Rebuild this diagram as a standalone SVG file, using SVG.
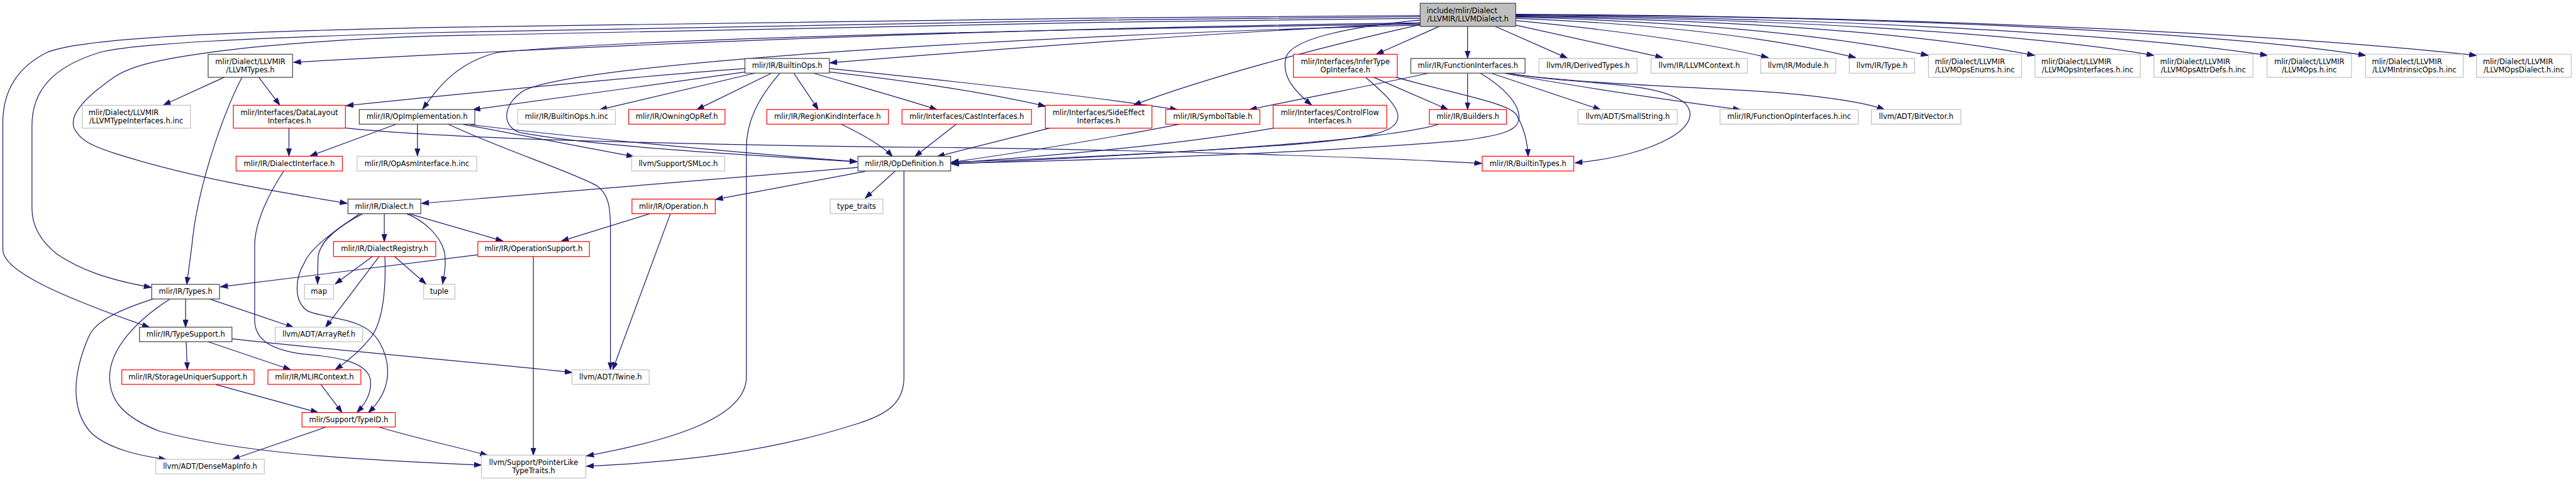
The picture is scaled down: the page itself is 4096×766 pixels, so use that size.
<svg xmlns="http://www.w3.org/2000/svg" width="4096" height="766" viewBox="0 0 4096 766">
<style>
.n rect{fill:#fff;stroke-width:1.33}
.doc rect{stroke:#404040}
.red rect{stroke:#ff0000}
.gray rect{stroke:#bfbfbf}
.top rect{fill:#bfbfbf;stroke:#404040}
text{font-family:"DejaVu Sans","Liberation Sans",sans-serif;font-size:12.75px;fill:#000;text-anchor:middle}
text.l{text-anchor:start}
#edges path{fill:none;stroke:#191970;stroke-width:1.33;marker-end:url(#a)}
</style>
<defs>
<marker id="a" markerUnits="userSpaceOnUse" markerWidth="14" markerHeight="10" refX="13" refY="5" orient="auto"><path d="M0,0.5 L13,5 L0,9.5z" fill="#191970" stroke="#191970" stroke-width="1"/></marker>
</defs>
<rect x="0" y="0" width="4096" height="766" fill="#fff"/>
<g transform="scale(0.908)">
<g id="edges">
<path d="M2487,40 C1700,50 1000,82 514,109"/>
<path d="M2487,27 C1900,31 1200,38 760,48 C400,56 140,66 82,92 C30,118 5,160 5,215 L5,437 C5,475 110,520 262,573"/>
<path d="M2487,29 C1900,34 1200,45 760,57 C450,66 230,76 174,92 C90,118 56,160 56,220 L56,365 C56,400 75,425 100,445 C140,472 190,490 265,503"/>
<path d="M2487,32 C1900,38 1200,50 760,63 C550,70 420,84 359,93 C280,104 230,115 200,135 C150,170 120,200 130,225 C140,245 160,255 200,268 C330,310 480,335 608,356"/>
<path d="M2487,42 C1800,52 1100,68 870,92 C800,110 770,150 740,191"/>
<path d="M2487,44 C1800,62 1000,110 915,160 C880,185 878,220 910,232 C1050,258 1350,274 1501,283"/>
<path d="M2487,40 C2100,58 1700,90 1453,110"/>
<path d="M2487,43 C2300,85 2100,140 1985,184"/>
<path d="M2487,35 C2350,48 2262,70 2252,100 C2243,135 2270,162 2297,184"/>
<path d="M2521,46 L2410,95"/>
<path d="M2570,46 L2570,102"/>
<path d="M2618,46 L2745,102"/>
<path d="M2654,44 L2912,101"/>
<path d="M2654,36 C2850,55 3000,78 3097,101"/>
<path d="M2654,32 C2900,42 3100,65 3250,101"/>
<path d="M2654,30 C2950,38 3200,60 3377,97"/>
<path d="M2654,29 C3000,34 3350,55 3563,97"/>
<path d="M2654,28 C3100,32 3550,58 3772,97"/>
<path d="M2654,27 C3150,30 3700,56 3971,97"/>
<path d="M2654,26 C3250,28 3850,52 4143,97"/>
<path d="M2654,25 C3300,28 3950,55 4337,97"/>
<path d="M1305,120 C1100,135 800,165 606,185"/>
<path d="M1305,126 L828,192"/>
<path d="M1322,128 L1050,192"/>
<path d="M1351,128 L1220,192"/>
<path d="M1390,128 L1433,192"/>
<path d="M1366,128 C1325,175 1307,215 1307,260 L1307,660 C1307,730 1180,770 1027,798"/>
<path d="M1452,120 C1700,145 1920,170 2062,192"/>
<path d="M1452,126 C1600,142 1740,165 1831,186"/>
<path d="M1424,128 C1500,150 1580,172 1641,192"/>
<path d="M393,135 L286,184"/>
<path d="M453,135 L490,184"/>
<path d="M424,135 C390,200 345,330 336,430 L327,498"/>
<path d="M506,224 L506,273"/>
<path d="M605,224 C800,245 1300,255 1640,258 C2000,262 2400,275 2595,286"/>
<path d="M695,217 L543,273"/>
<path d="M731,217 L731,273"/>
<path d="M784,217 C880,262 1000,300 1045,325 C1065,340 1069,360 1069,400 L1069,647"/>
<path d="M808,217 L1110,274"/>
<path d="M823,218 C1000,240 1300,268 1501,283"/>
<path d="M497,299 C470,340 446,390 446,430 L446,560 C446,592 470,612 533,620 C585,624 640,632 648,662 C653,688 638,708 625,722"/>
<path d="M673,374 L673,423"/>
<path d="M635,374 C595,395 560,420 557,450 L556,497"/>
<path d="M630,374 C600,395 545,430 533,460 C515,490 515,530 540,545 C580,560 640,555 665,600 C690,645 680,690 645,722"/>
<path d="M712,374 C740,385 770,410 778,440 C782,460 778,480 775,497"/>
<path d="M716,374 L881,422"/>
<path d="M1502,293 L738,356"/>
<path d="M1515,300 L1253,349"/>
<path d="M1568,299 L1515,347"/>
<path d="M1583,299 L1583,660 C1583,705 1555,725 1500,742 C1350,790 1200,808 1027,816"/>
<path d="M1138,374 L983,422"/>
<path d="M1174,374 L1073,647"/>
<path d="M837,446 L386,502"/>
<path d="M934,449 L934,797"/>
<path d="M652,449 L587,497"/>
<path d="M664,449 L570,573"/>
<path d="M674,449 C676,500 672,560 650,590 C630,615 605,635 587,647"/>
<path d="M691,449 L746,497"/>
<path d="M325,523 L325,573"/>
<path d="M366,523 L514,573"/>
<path d="M269,523 C200,545 165,565 155,590 C125,660 125,720 160,758 C190,785 240,797 291,804"/>
<path d="M298,523 C240,560 192,610 192,660 C192,700 215,730 280,755 C420,792 600,804 843,814"/>
<path d="M326,598 L328,647"/>
<path d="M364,598 L509,647"/>
<path d="M406,593 C600,615 850,635 1002,652"/>
<path d="M378,673 L557,722"/>
<path d="M562,673 L599,722"/>
<path d="M572,747 L407,804"/>
<path d="M662,747 C720,765 800,782 854,797"/>
<path d="M2405,135 L2536,192"/>
<path d="M2444,135 C2550,165 2640,180 2655,200 C2670,225 2675,250 2676,274"/>
<path d="M2391,135 C2420,160 2455,190 2447,210 C2440,232 2400,242 2250,254 C2050,268 1800,279 1666,284"/>
<path d="M2502,128 C2400,150 2280,172 2188,192"/>
<path d="M2570,128 L2570,192"/>
<path d="M2611,128 L2803,192"/>
<path d="M2633,128 C2750,150 2900,172 3048,192"/>
<path d="M2637,128 C2750,145 2950,152 3050,158 C3180,165 3270,180 3300,192"/>
<path d="M2640,128 C2760,150 2900,140 2950,180 C2990,220 2900,272 2758,285"/>
<path d="M2592,128 C2630,150 2660,180 2660,205 C2660,226 2640,236 2560,246 C2300,268 1900,281 1666,286"/>
<path d="M2521,217 C2450,240 2200,262 1666,287"/>
<path d="M2232,224 C2050,256 1800,276 1666,285"/>
<path d="M2067,217 C1900,250 1750,272 1666,284"/>
<path d="M1839,224 L1641,274"/>
<path d="M1675,217 L1602,274"/>
<path d="M1472,217 C1510,235 1545,255 1563,274"/>
</g>
<g id="n_top" class="n top"><rect x="2487" y="5.7" width="167.2" height="40.6"/><text class="l" x="2498" y="22.6">include/mlir/Dialect</text><text x="2570.6" y="37.6">/LLVMIR/LLVMDialect.h</text></g>
<g id="n_llvmtypes" class="n doc"><rect x="364.5" y="95" width="147.8" height="40.3"/><text x="438.4" y="111.9">mlir/Dialect/LLVMIR</text><text x="438.4" y="126.9">/LLVMTypes.h</text></g>
<g id="n_builtinops" class="n doc"><rect x="1304.5" y="102.3" width="147.8" height="25.7"/><text x="1378.4" y="119.2">mlir/IR/BuiltinOps.h</text></g>
<g id="n_infertype" class="n red"><rect x="2265" y="95" width="181.8" height="40.3"/><text x="2355.9" y="111.9">mlir/Interfaces/InferType</text><text x="2355.9" y="126.9">OpInterface.h</text></g>
<g id="n_funcif" class="n doc"><rect x="2470.5" y="102.3" width="200.2" height="25.7"/><text x="2570.6" y="119.2">mlir/IR/FunctionInterfaces.h</text></g>
<g id="n_derived" class="n gray"><rect x="2695" y="102.3" width="172" height="25.7"/><text x="2781" y="119.2">llvm/IR/DerivedTypes.h</text></g>
<g id="n_llvmctx" class="n gray"><rect x="2891.3" y="102.3" width="168.7" height="25.7"/><text x="2975.6" y="119.2">llvm/IR/LLVMContext.h</text></g>
<g id="n_module" class="n gray"><rect x="3083.4" y="102.3" width="131.3" height="25.7"/><text x="3149" y="119.2">llvm/IR/Module.h</text></g>
<g id="n_type" class="n gray"><rect x="3238.5" y="102.3" width="114.4" height="25.7"/><text x="3295.7" y="119.2">llvm/IR/Type.h</text></g>
<g id="n_enums" class="n gray"><rect x="3377.1" y="95" width="162.9" height="40.3"/><text class="l" x="3388.1" y="111.9">mlir/Dialect/LLVMIR</text><text x="3458.5" y="126.9">/LLVMOpsEnums.h.inc</text></g>
<g id="n_opsif" class="n gray"><rect x="3563.7" y="95" width="184.2" height="40.3"/><text class="l" x="3574.7" y="111.9">mlir/Dialect/LLVMIR</text><text x="3655.8" y="126.9">/LLVMOpsInterfaces.h.inc</text></g>
<g id="n_attrdefs" class="n gray"><rect x="3771.8" y="95" width="173.5" height="40.3"/><text class="l" x="3782.8" y="111.9">mlir/Dialect/LLVMIR</text><text x="3858.5" y="126.9">/LLVMOpsAttrDefs.h.inc</text></g>
<g id="n_opsinc" class="n gray"><rect x="3970" y="95" width="147.9" height="40.3"/><text x="4044" y="111.9">mlir/Dialect/LLVMIR</text><text x="4044" y="126.9">/LLVMOps.h.inc</text></g>
<g id="n_intrinsic" class="n gray"><rect x="4142.5" y="95" width="171.1" height="40.3"/><text class="l" x="4153.5" y="111.9">mlir/Dialect/LLVMIR</text><text x="4228" y="126.9">/LLVMIntrinsicOps.h.inc</text></g>
<g id="n_opsdialect" class="n gray"><rect x="4336.9" y="95" width="165.7" height="40.3"/><text class="l" x="4347.9" y="111.9">mlir/Dialect/LLVMIR</text><text x="4419.7" y="126.9">/LLVMOpsDialect.h.inc</text></g>
<g id="n_typeifinc" class="n gray"><rect x="144" y="184.3" width="189.5" height="40"/><text class="l" x="155" y="201.2">mlir/Dialect/LLVMIR</text><text x="238.7" y="216.2">/LLVMTypeInterfaces.h.inc</text></g>
<g id="n_datalayout" class="n red"><rect x="408.6" y="184.3" width="196.3" height="40"/><text x="506.7" y="201.2">mlir/Interfaces/DataLayout</text><text x="506.7" y="216.2">Interfaces.h</text></g>
<g id="n_opimpl" class="n doc"><rect x="629.2" y="191.7" width="202.2" height="25.6"/><text x="730.3" y="208.6">mlir/IR/OpImplementation.h</text></g>
<g id="n_builtinopsinc" class="n gray"><rect x="906.6" y="191.7" width="171.1" height="25.6"/><text x="992.1" y="208.6">mlir/IR/BuiltinOps.h.inc</text></g>
<g id="n_owning" class="n red"><rect x="1100.9" y="191.7" width="168.7" height="25.6"/><text x="1185.2" y="208.6">mlir/IR/OwningOpRef.h</text></g>
<g id="n_regionkind" class="n red"><rect x="1342.8" y="191.7" width="212.9" height="25.6"/><text x="1449.2" y="208.6">mlir/IR/RegionKindInterface.h</text></g>
<g id="n_cast" class="n red"><rect x="1579.5" y="191.7" width="226.8" height="25.6"/><text x="1692.9" y="208.6">mlir/Interfaces/CastInterfaces.h</text></g>
<g id="n_sideeffect" class="n red"><rect x="1830.6" y="184.3" width="186.6" height="40"/><text x="1923.9" y="201.2">mlir/Interfaces/SideEffect</text><text x="1923.9" y="216.2">Interfaces.h</text></g>
<g id="n_symtab" class="n red"><rect x="2041.4" y="191.7" width="164.8" height="25.6"/><text x="2123.8" y="208.6">mlir/IR/SymbolTable.h</text></g>
<g id="n_controlflow" class="n red"><rect x="2229.5" y="184.3" width="198.9" height="40"/><text x="2329" y="201.2">mlir/Interfaces/ControlFlow</text><text x="2329" y="216.2">Interfaces.h</text></g>
<g id="n_builders" class="n red"><rect x="2503" y="191.7" width="135.2" height="25.6"/><text x="2570.6" y="208.6">mlir/IR/Builders.h</text></g>
<g id="n_smallstring" class="n gray"><rect x="2763.3" y="191.7" width="174" height="25.6"/><text x="2850.3" y="208.6">llvm/ADT/SmallString.h</text></g>
<g id="n_funcopinc" class="n gray"><rect x="3012.1" y="191.7" width="241.9" height="25.6"/><text x="3133" y="208.6">mlir/IR/FunctionOpInterfaces.h.inc</text></g>
<g id="n_bitvector" class="n gray"><rect x="3277.2" y="191.7" width="156.6" height="25.6"/><text x="3355.5" y="208.6">llvm/ADT/BitVector.h</text></g>
<g id="n_dialectif" class="n red"><rect x="413.4" y="273.5" width="186.2" height="25.8"/><text x="506.5" y="290.4">mlir/IR/DialectInterface.h</text></g>
<g id="n_opasminc" class="n gray"><rect x="625.3" y="273.5" width="209.5" height="25.8"/><text x="730" y="290.4">mlir/IR/OpAsmInterface.h.inc</text></g>
<g id="n_smloc" class="n gray"><rect x="1106.3" y="273.5" width="162.8" height="25.8"/><text x="1187.7" y="290.4">llvm/Support/SMLoc.h</text></g>
<g id="n_opdef" class="n doc"><rect x="1502.4" y="273.5" width="162.4" height="25.8"/><text x="1583.6" y="290.4">mlir/IR/OpDefinition.h</text></g>
<g id="n_builtintypes" class="n red"><rect x="2595.6" y="273.5" width="160.4" height="25.8"/><text x="2675.8" y="290.4">mlir/IR/BuiltinTypes.h</text></g>
<g id="n_dialect" class="n doc"><rect x="609.3" y="348.5" width="127.5" height="25.5"/><text x="673" y="365.4">mlir/IR/Dialect.h</text></g>
<g id="n_operation" class="n red"><rect x="1106.7" y="348.5" width="145.9" height="25.5"/><text x="1179.6" y="365.4">mlir/IR/Operation.h</text></g>
<g id="n_typetraits" class="n gray"><rect x="1453.8" y="348.5" width="92.2" height="25.5"/><text x="1499.9" y="365.4">type_traits</text></g>
<g id="n_registry" class="n red"><rect x="584.1" y="422.7" width="178.9" height="26.3"/><text x="673.5" y="439.6">mlir/IR/DialectRegistry.h</text></g>
<g id="n_opsupport" class="n red"><rect x="836.8" y="422.7" width="195.3" height="26.3"/><text x="934.4" y="439.6">mlir/IR/OperationSupport.h</text></g>
<g id="n_types" class="n doc"><rect x="265.6" y="497.7" width="118.8" height="25.6"/><text x="325" y="514.6">mlir/IR/Types.h</text></g>
<g id="n_map" class="n gray"><rect x="533.2" y="497.7" width="50.9" height="25.6"/><text x="558.6" y="514.6">map</text></g>
<g id="n_tuple" class="n gray"><rect x="742" y="497.7" width="54.5" height="25.6"/><text x="769.2" y="514.6">tuple</text></g>
<g id="n_typesupport" class="n doc"><rect x="244.3" y="572.7" width="161.9" height="25.3"/><text x="325.2" y="589.5">mlir/IR/TypeSupport.h</text></g>
<g id="n_arrayref" class="n gray"><rect x="481.8" y="572.7" width="153.2" height="25.3"/><text x="558.4" y="589.5">llvm/ADT/ArrayRef.h</text></g>
<g id="n_storage" class="n red"><rect x="213.3" y="647.3" width="231.7" height="25.4"/><text x="329.1" y="664.2">mlir/IR/StorageUniquerSupport.h</text></g>
<g id="n_mlirctx" class="n red"><rect x="469.2" y="647.3" width="162.8" height="25.4"/><text x="550.6" y="664.2">mlir/IR/MLIRContext.h</text></g>
<g id="n_twine" class="n gray"><rect x="1001.6" y="647.3" width="135.2" height="25.4"/><text x="1069.2" y="664.2">llvm/ADT/Twine.h</text></g>
<g id="n_typeid" class="n red"><rect x="528.8" y="722" width="163.4" height="25.3"/><text x="610.5" y="738.9">mlir/Support/TypeID.h</text></g>
<g id="n_densemap" class="n gray"><rect x="272.9" y="804" width="190" height="25.3"/><text x="367.9" y="820.9">llvm/ADT/DenseMapInfo.h</text></g>
<g id="n_pointerlike" class="n gray"><rect x="843" y="796.7" width="182.8" height="40"/><text x="934.4" y="813.6">llvm/Support/PointerLike</text><text x="934.4" y="828.6">TypeTraits.h</text></g>
</g>
</svg>
